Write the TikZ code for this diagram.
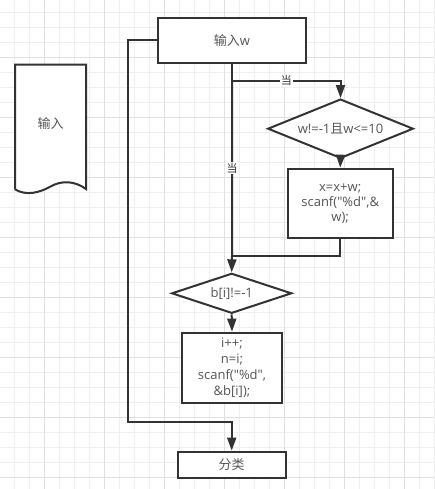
\documentclass[tikz,border=0pt]{standalone}
\usepackage{fontspec}
\newfontfamily\lat{Open Sans}
\newfontfamily\cjk{Noto Sans CJK SC}
\usetikzlibrary{shapes.geometric,arrows.meta}
\definecolor{linec}{HTML}{333333}
\definecolor{textc}{HTML}{555555}
\definecolor{gridminor}{HTML}{EFEFEF}
\definecolor{gridmajor}{HTML}{E0E0E0}
\begin{document}
\begin{tikzpicture}[x=1pt,y=-1pt,
  every node/.style={font=\lat\fontsize{13}{15}\selectfont, text=textc},
  boxnode/.style={draw=linec, line width=2pt, rectangle, inner sep=0pt, align=center},
  decision/.style={draw=linec, line width=2pt, diamond, inner sep=0pt, shape aspect=2},
  conn/.style={draw=linec, line width=2pt},
  arr/.style={conn, -{Triangle[length=13pt,width=9pt]}},
  cond/.style={fill=white, inner sep=1pt, font=\cjk\fontsize{11}{12}\selectfont, text=linec}
]
\useasboundingbox (0,0) rectangle (434,489);
\fill[white] (0,0) rectangle (434,489);
% grid
\foreach \i in {0,...,28} {\draw[gridminor, line width=1pt] ({14.7+15*\i},0) -- ({14.7+15*\i},489);}
\foreach \i in {0,...,32} {\draw[gridminor, line width=1pt] (0,{12.3+15*\i}) -- (434,{12.3+15*\i});}
\foreach \i in {0,...,6} {\draw[gridmajor, line width=1pt] ({44.7+60*\i},0) -- ({44.7+60*\i},489);}
\foreach \i in {0,...,7} {\draw[gridmajor, line width=1pt] (0,{57.3+60*\i}) -- (434,{57.3+60*\i});}

% document shape
\draw[conn, fill=white, line join=miter] (15,189.3) -- (15,64.7) -- (86,64.7) -- (86,189)
  .. controls (75,181) and (62,180) .. (50.5,186.5)
  .. controls (39,193) and (26,196) .. (15,189.3);
\node (doc) at (50.5,124) {\cjk 输入};

% nodes
\node[boxnode, fill=white, minimum width=148pt, minimum height=45pt] (top) at (232,40.5) {{\cjk 输入}w};
\node[decision, fill=white, minimum width=145.6pt, minimum height=59.3pt] (d1) at (340.5,128.7) {\makebox[0pt]{w!=-1{\cjk 且}w<=10}};
\node[boxnode, fill=white, minimum width=105pt, minimum height=69.3pt] (b2) at (340.2,203.3) {x=x+w;\\scanf("\%d",\&\\w);};
\node[decision, fill=white, minimum width=120pt, minimum height=40pt] (d2) at (231.7,293.3) {\makebox[0pt]{b[i]!=-1}};
\node[boxnode, fill=white, minimum width=100.6pt, minimum height=70.3pt, font=\lat\fontsize{13}{16}\selectfont] (b3) at (232,367.8) {i++;\\n=i;\\scanf("\%d",\\\&b[i]);};
\node[boxnode, fill=white, minimum width=108pt, minimum height=26.3pt] (fen) at (231.7,464.8) {\cjk 分类};

% junction coordinates
\coordinate (j1) at (232,80.7);
\coordinate (j2) at (232,255.7);
\coordinate (c1) at (128,40.5);
\coordinate (c2) at (128,422.3);

% connectors
\draw[conn] (top.south) -- (j1);
\draw[arr] (j1) -- node[cond] (lab2) {当} (j2) -- (d2.north);
\draw[arr] (j1) -- node[cond] (lab1) {当} (j1 -| d1.north) -- (d1.north);
\draw[arr] (d1.south) -- (b2.north);
\draw[conn] (b2.south) -- (b2.south |- j2) -- (j2);
\draw[arr] (d2.south) -- (b3.north);
\draw[arr] (top.west) -- (c1) -- (c2) -- (c2 -| fen.north) -- (fen.north);
\end{tikzpicture}
\end{document}
